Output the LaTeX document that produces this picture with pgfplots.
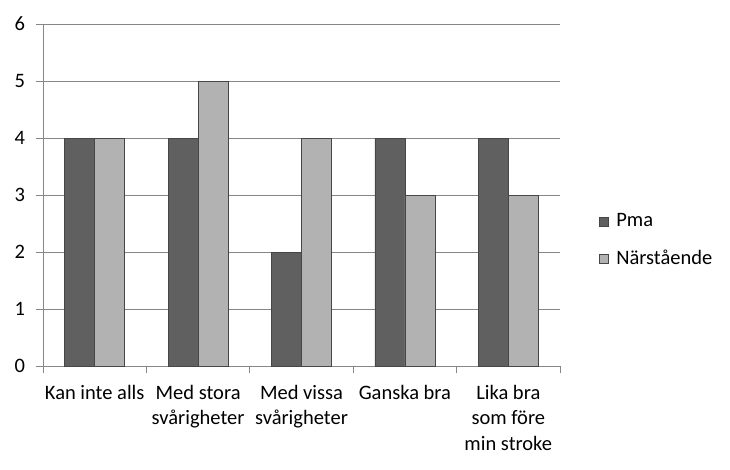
\documentclass[border=0pt]{standalone}
\usepackage{pgfplots}
\pgfplotsset{compat=1.18}
\usepackage{fontspec}
\setmainfont{Carlito}
\definecolor{darkbar}{RGB}{96,96,96}
\definecolor{lightbar}{RGB}{178,178,178}
\definecolor{edgec}{RGB}{70,70,70}
\definecolor{gridc}{RGB}{134,134,134}
\begin{document}
\fontsize{20.5pt}{24.5pt}\selectfont
\begin{tikzpicture}[x=1pt,y=1pt]
\path[use as bounding box] (0,0) rectangle (730,469);
\begin{axis}[
  at={(43pt,103pt)}, anchor=south west,
  scale only axis,
  width=517pt, height=342pt,
  ybar=0pt, bar width=30pt,
  xmin=-0.5, xmax=4.5, ymin=0, ymax=6,
  ytick={0,1,...,6},
  xtick={0,1,2,3,4},
  xticklabels={Kan inte alls, {Med stora\\svårigheter}, {Med vissa\\svårigheter}, Ganska bra, {Lika bra\\som före\\min stroke}},
  xticklabel style={align=center, font=\fontsize{20.5pt}{25.5pt}\selectfont, inner sep=2pt},
  yticklabel style={font=\fontsize{20.5pt}{24pt}\selectfont},
  /pgf/number format/assume math mode=true,
  minor xtick={-0.5,0.5,1.5,2.5,3.5,4.5},
  major x tick style={draw=none},
  minor tick length=7pt,
  major tick length=7pt,
  tick align=outside,
  axis x line*=bottom, axis y line*=left,
  axis line style={draw=gridc, line width=0.8pt},
  every tick/.style={gridc, line width=0.8pt},
  ymajorgrids, major grid style={gridc, line width=0.8pt},
  xticklabel shift=10pt,
  yticklabel shift=4pt,
  legend style={at={(1.075,0.367)}, anchor=west, draw=none, fill=none,
    font=\fontsize{20.5pt}{24pt}\selectfont, row sep=14pt, inner sep=0pt,
    nodes={inner sep=3pt}},
  legend cell align=left,
  legend image code/.code={\path[draw=none,fill=none] (0pt,0pt) -- (14pt,0pt);\draw[#1, draw=edgec, line width=0.6pt, fill] (0pt,-4.5pt) rectangle (9pt,4.5pt);},
  enlargelimits=false,
  clip=false,
]
\addplot[fill=darkbar, draw=edgec, line width=0.6pt] coordinates {(0,4) (1,4) (2,2) (3,4) (4,4)};
\addplot[fill=lightbar, draw=edgec, line width=0.6pt] coordinates {(0,4) (1,5) (2,4) (3,3) (4,3)};
\legend{Pma, Närstående}
\end{axis}
\end{tikzpicture}
\end{document}
